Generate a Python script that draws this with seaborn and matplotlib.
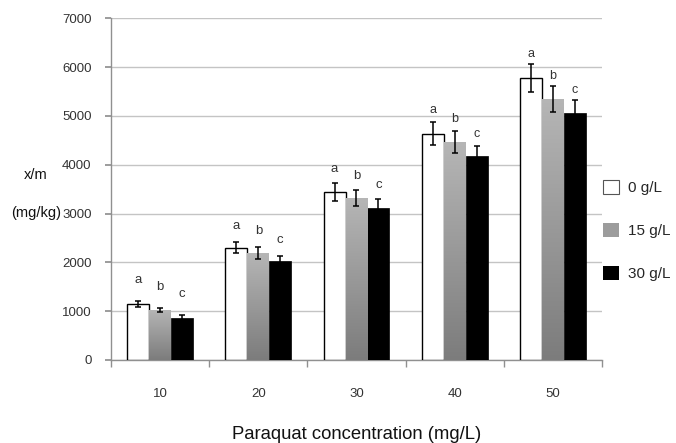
import numpy as np
import pandas as pd
import matplotlib
matplotlib.use("Agg")
import matplotlib.pyplot as plt
from matplotlib.patches import Patch
import seaborn as sns

# ---- data ----
concentrations = ["10", "20", "30", "40", "50"]
series_names = ["0 g/L", "15 g/L", "30 g/L"]
values_0 = [1141, 2301, 3443, 4637, 5779]
values_15 = [1025, 2193, 3320, 4461, 5348]
values_30 = [861, 2022, 3121, 4180, 5061]
err_0 = [65, 115, 180, 230, 290]
err_15 = [50, 120, 170, 230, 265]
err_30 = [55, 115, 170, 210, 265]
letters = ["a", "b", "c"]

sns.set_theme(style="white")
plt.rcParams['font.family'] = ['Liberation Sans', 'DejaVu Sans']

df = pd.DataFrame({
    "conc": concentrations * 3,
    "series": sum([[s] * len(concentrations) for s in series_names], []),
    "value": values_0 + values_15 + values_30,
})
errs = [err_0, err_15, err_30]
vals = [values_0, values_15, values_30]

fig = plt.figure(figsize=(6.76, 4.43), dpi=100)
ax = fig.add_axes([0.1642, 0.1874, 0.7263, 0.7713])

palette = {"0 g/L": "white", "15 g/L": "#a0a0a0", "30 g/L": "black"}
sns.barplot(data=df, x="conc", y="value", hue="series", order=concentrations,
            hue_order=series_names, palette=palette, width=0.67,
            errorbar=None, ax=ax, legend=False, zorder=3)

ax.set_ylim(0, 7000)
ax.set_xlim(-0.5, len(concentrations) - 0.5)

bar_containers = list(ax.containers)

# styling bars
grad = np.linspace(0, 1, 256).reshape(-1, 1)
cmap_gray = matplotlib.colors.LinearSegmentedColormap.from_list("g", ["#7c7c7c", "#b6b6b6"])
for i, cont in enumerate(bar_containers):
    for p in cont.patches:
        if i == 0:
            p.set_facecolor("white")
            p.set_edgecolor("black")
            p.set_linewidth(1.0)
        elif i == 1:
            p.set_edgecolor("none")
            x0, y0 = p.get_x(), p.get_y()
            w, h = p.get_width(), p.get_height()
            im = ax.imshow(grad, cmap=cmap_gray, aspect="auto", origin="lower",
                           extent=[x0, x0 + w, y0, y0 + h], zorder=3.5)
            im.set_clip_path(p)
        else:
            p.set_edgecolor("black")
            p.set_linewidth(0.5)

ax.set_xlim(-0.5, len(concentrations) - 0.5)
ax.set_ylim(0, 7000)

# error bars and letters
letter_offsets_px = [15, 10, 8, 6, 4]
for i, cont in enumerate(bar_containers):
    xs = [p.get_x() + p.get_width() / 2 for p in cont.patches]
    ax.errorbar(xs, vals[i], yerr=errs[i], fmt="none", ecolor="black",
                elinewidth=1.1, capsize=2.2, capthick=1.1, zorder=5)
    for j, x in enumerate(xs):
        ax.annotate(letters[i], (x, vals[i][j] + errs[i][j]),
                    xytext=(0, letter_offsets_px[j] * 0.72), textcoords="offset points",
                    ha="center", va="bottom", fontsize=9.5 if j < 3 else 9,
                    color="#333333", zorder=6)

# axes styling
ax.yaxis.grid(True, color="#c4c4c4", linewidth=1.0, zorder=0)
ax.set_axisbelow(True)
for s in ["top", "right"]:
    ax.spines[s].set_visible(False)
for s in ["left", "bottom"]:
    ax.spines[s].set_color("#909090")
    ax.spines[s].set_linewidth(1.0)
ax.set_yticks(np.arange(0, 7001, 1000))
ax.tick_params(axis="y", length=4, color="#909090", labelsize=9.5, labelcolor="#333333", pad=10, left=True)
ax.set_xticks(range(len(concentrations)))
ax.set_xticklabels(concentrations)
ax.set_xticks(np.arange(-0.5, len(concentrations), 1.0), minor=True)
ax.tick_params(axis="x", which="major", length=0, labelsize=9.5, labelcolor="#333333", pad=20)
ax.tick_params(axis="x", which="minor", length=5, color="#909090", bottom=True, direction="out")
ax.set_xlabel("Paraquat concentration (mg/L)", fontsize=13.3, color="#111111", labelpad=19)
ax.set_ylabel("")

fig.text(36 / 676, 1 - 175 / 443, "x/m", ha="center", va="center", fontsize=10.5, color="#111111")
fig.text(36 / 676, 1 - 213 / 443, "(mg/kg)", ha="center", va="center", fontsize=10.5, color="#111111")

handles = [Patch(facecolor="white", edgecolor="#555555", linewidth=0.8),
           Patch(facecolor="#9c9c9c", edgecolor="none"),
           Patch(facecolor="black", edgecolor="none")]
fig.legend(handles, series_names, loc="upper left",
           bbox_to_anchor=(597 / 676, 1 - 174 / 443), frameon=False,
           fontsize=11, handlelength=1.05, handleheight=1.05, labelspacing=1.8,
           handletextpad=0.55, borderaxespad=0)

fig.savefig("out.png", dpi=100)
